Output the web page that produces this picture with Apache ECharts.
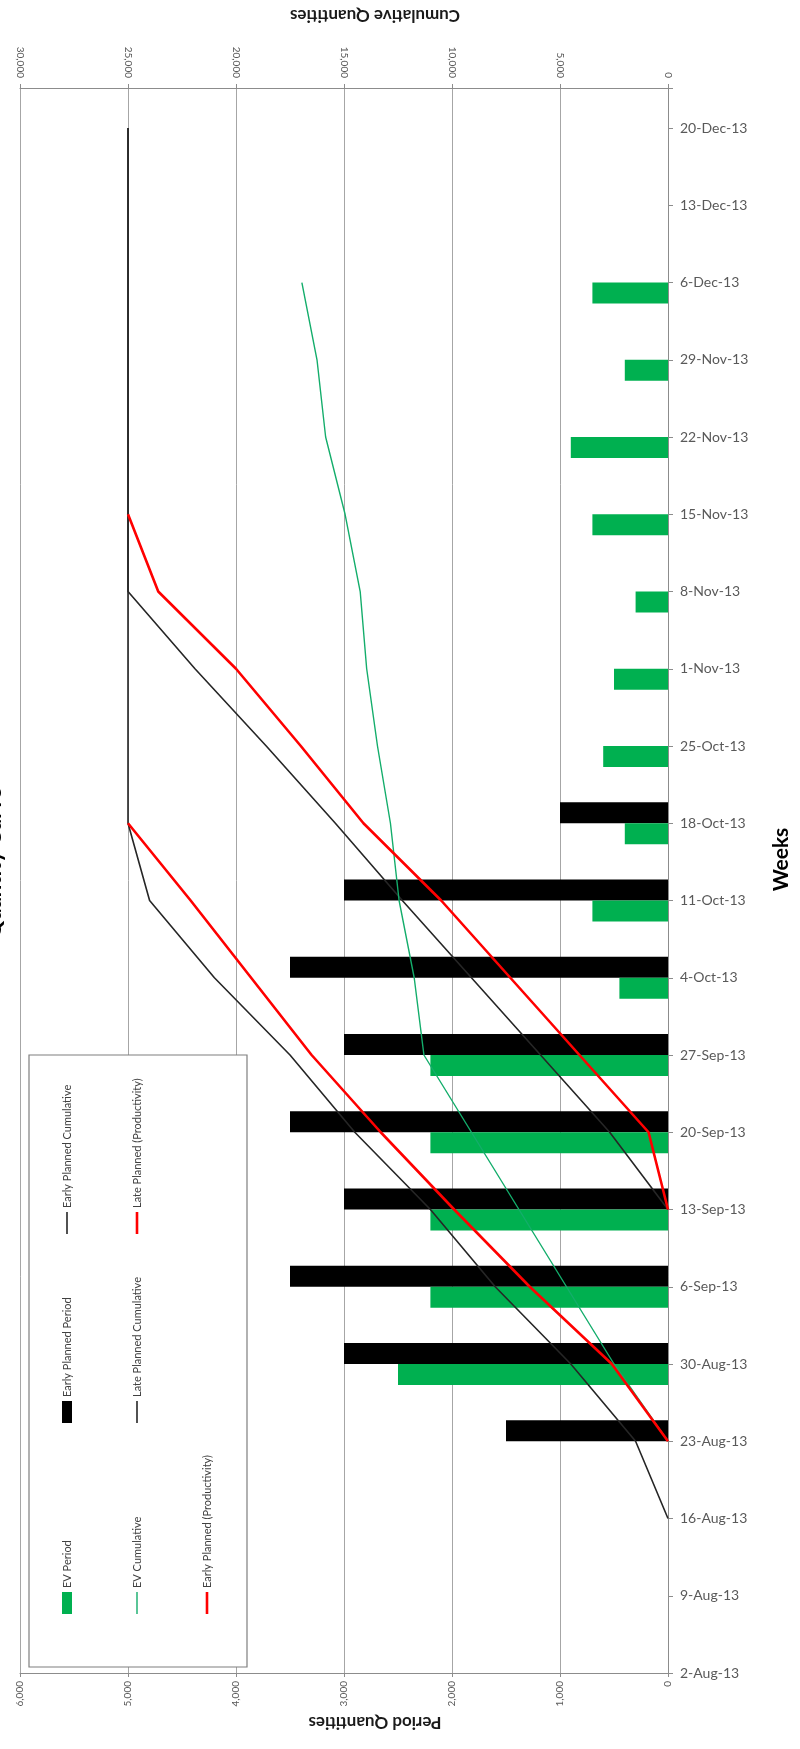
<!DOCTYPE html>
<html>
<head>
<meta charset="utf-8">
<title>Quantity Curve</title>
<script src="https://cdn.jsdelivr.net/npm/echarts@6/dist/echarts.min.js"></script>
<style>
  html, body { margin: 0; padding: 0; background: #ffffff; }
  #chart { width: 800px; height: 1749px; }
</style>
</head>
<body>
<div id="chart"></div>
<script>
// Weekly reporting dates (category labels)
const weeks = ['2-Aug-13','9-Aug-13','16-Aug-13','23-Aug-13','30-Aug-13','6-Sep-13','13-Sep-13',
  '20-Sep-13','27-Sep-13','4-Oct-13','11-Oct-13','18-Oct-13','25-Oct-13','1-Nov-13','8-Nov-13',
  '15-Nov-13','22-Nov-13','29-Nov-13','6-Dec-13','13-Dec-13','20-Dec-13'];

// Period quantities (bars)
const evPeriod =           [null, null, null, null, 2500, 2200, 2200, 2200, 2200, 450, 700, 400, 600, 500, 300, 700, 900, 400, 700, null, null];
const earlyPlannedPeriod = [null, null, null, 1500, 3000, 3500, 3000, 3500, 3000, 3500, 3000, 1000, null, null, null, null, null, null, null, null, null];

// Cumulative quantities (lines)
const earlyPlannedCum = [null, null, 0, 1500, 4500, 8000, 11000, 14500, 17500, 21000, 24000, 25000, 25000, 25000, 25000, 25000, 25000, 25000, 25000, 25000, 25000];
const evCum =           [null, null, null, 0, 2500, 4700, 6900, 9100, 11300, 11750, 12450, 12850, 13450, 13950, 14250, 14950, 15850, 16250, 16950, null, null];
const latePlannedCum =  [null, null, null, null, null, null, 0, 2700, 5900, 9100, 12300, 15400, 18600, 21900, 25000, 25000, 25000, 25000, 25000, 25000, 25000];
const latePlannedProd = [null, null, null, null, null, null, 0, 900, 4100, 7300, 10500, 14100, 17000, 20000, 23600, 25000, null, null, null, null, null];
const earlyPlannedProd =[null, null, null, 0, 2600, 6400, 9900, 13300, 16500, 19300, 22100, 25000, null, null, null, null, null, null, null, null, null];

// Axis ranges
const periodMax = 6000, periodStep = 1000;
const cumMax = 30000, cumStep = 5000;
// the week axis runs a little past the last date
const weekAxisMax = weeks.length - 1 + 0.518;

const FONT = 'Lato, "Open Sans", sans-serif';
const BAR_W = 21;

function pairs(values) {
  const out = [];
  values.forEach((v, i) => { if (v !== null) out.push([v, i]); });
  return out;
}
const fmt = v => Number(v).toLocaleString('en-US');

const colors = {
  ev: '#00B050',
  early: '#000000',
  cumLine: '#262626',
  evLine: '#13AD6B',
  prod: '#FF0000'
};

// Horizontal period bar, drawn beside its week tick (offset in bar widths)
function periodBar(color, slot) {
  return function (params, api) {
    const v = api.value(0), w = api.value(1);
    const p0 = api.coord([0, w]);
    const p1 = api.coord([v, w]);
    return {
      type: 'rect',
      shape: { x: Math.min(p0[0], p1[0]), y: p0[1] + slot * BAR_W,
               width: Math.abs(p1[0] - p0[0]), height: BAR_W },
      style: { fill: color }
    };
  };
}

const series = [
  { name: 'Early Planned Period', type: 'custom', xAxisIndex: 0, encode: { x: 0, y: 1 },
    renderItem: periodBar(colors.early, -1), data: pairs(earlyPlannedPeriod) },
  { name: 'EV Period', type: 'custom', xAxisIndex: 0, encode: { x: 0, y: 1 },
    renderItem: periodBar(colors.ev, 0), data: pairs(evPeriod) },
  { name: 'Early Planned Cumulative', type: 'line', xAxisIndex: 1, showSymbol: false,
    lineStyle: { color: colors.cumLine, width: 1.6 }, data: pairs(earlyPlannedCum) },
  { name: 'Late Planned Cumulative', type: 'line', xAxisIndex: 1, showSymbol: false,
    lineStyle: { color: colors.cumLine, width: 1.6 }, data: pairs(latePlannedCum) },
  { name: 'EV Cumulative', type: 'line', xAxisIndex: 1, showSymbol: false,
    lineStyle: { color: colors.evLine, width: 1.4 }, data: pairs(evCum) },
  { name: 'Late Planned (Productivity)', type: 'line', xAxisIndex: 1, showSymbol: false,
    lineStyle: { color: colors.prod, width: 2.6 }, data: pairs(latePlannedProd) },
  { name: 'Early Planned (Productivity)', type: 'line', xAxisIndex: 1, showSymbol: false,
    lineStyle: { color: colors.prod, width: 2.6 }, data: pairs(earlyPlannedProd) }
];

// Legend: three columns, entries listed bottom-up in each column
const legendLayout = [
  { name: 'EV Period', col: 0, row: 0, kind: 'rect', color: colors.ev },
  { name: 'Early Planned Period', col: 0, row: 1, kind: 'rect', color: colors.early },
  { name: 'Early Planned Cumulative', col: 0, row: 2, kind: 'line', color: colors.cumLine, w: 1.6 },
  { name: 'EV Cumulative', col: 1, row: 0, kind: 'line', color: colors.evLine, w: 1.4 },
  { name: 'Late Planned Cumulative', col: 1, row: 1, kind: 'line', color: colors.cumLine, w: 1.6 },
  { name: 'Late Planned (Productivity)', col: 1, row: 2, kind: 'line', color: colors.prod, w: 2.6 },
  { name: 'Early Planned (Productivity)', col: 2, row: 0, kind: 'line', color: colors.prod, w: 2.6 }
];
const colX = [67, 137, 207];
const rowY = [1603, 1412, 1223];

const legendGraphics = [{
  type: 'rect', z: 100,
  shape: { x: 29, y: 1055, width: 218, height: 612 },
  style: { fill: '#ffffff', stroke: '#7f7f7f', lineWidth: 1.2 }
}];
legendLayout.forEach(item => {
  const cx = colX[item.col], cy = rowY[item.row];
  if (item.kind === 'rect') {
    legendGraphics.push({ type: 'rect', z: 101, shape: { x: cx - 5, y: cy - 11, width: 10, height: 22 },
      style: { fill: item.color } });
  } else {
    legendGraphics.push({ type: 'line', z: 101, shape: { x1: cx, y1: cy - 11, x2: cx, y2: cy + 11 },
      style: { stroke: item.color, lineWidth: item.w } });
  }
  legendGraphics.push({ type: 'text', z: 101, x: cx, y: cy - 15, rotation: Math.PI / 2,
    style: { text: item.name, align: 'left', verticalAlign: 'middle', fontSize: 11,
      fontFamily: FONT, fill: '#404040' } });
});

const chart = echarts.init(document.getElementById('chart'), null, { renderer: 'canvas' });

chart.setOption({
  animation: false,
  backgroundColor: '#ffffff',
  grid: { left: 20, right: 127, top: 88, bottom: 76 },
  xAxis: [
    {
      type: 'value', position: 'bottom', inverse: true,
      min: 0, max: periodMax, interval: periodStep,
      name: 'Period Quantities', nameLocation: 'middle', nameGap: 36, nameRotate: 180,
      nameTextStyle: { fontFamily: FONT, fontSize: 17, fontWeight: 'bold', color: '#1a1a1a', padding: [0, 62, 0, 0] },
      axisLine: { show: true, lineStyle: { color: '#8c8c8c' } },
      axisTick: { show: true, length: 4, lineStyle: { color: '#8c8c8c' } },
      axisLabel: { rotate: 90, margin: 8, fontSize: 10, fontFamily: FONT, color: '#595959', formatter: fmt },
      splitLine: { show: true, lineStyle: { color: '#a6a6a6', width: 1 } }
    },
    {
      type: 'value', position: 'top', inverse: true,
      min: 0, max: cumMax, interval: cumStep,
      name: 'Cumulative Quantities', nameLocation: 'middle', nameGap: 64, nameRotate: 180,
      nameTextStyle: { fontFamily: FONT, fontSize: 17, fontWeight: 'bold', color: '#1a1a1a', padding: [0, 62, 0, 0] },
      axisLine: { show: true, lineStyle: { color: '#8c8c8c' } },
      axisTick: { show: true, length: 4, lineStyle: { color: '#8c8c8c' } },
      axisLabel: { rotate: 90, margin: 10, fontSize: 10, fontFamily: FONT, color: '#595959', formatter: fmt },
      splitLine: { show: false }
    }
  ],
  yAxis: {
    type: 'value', position: 'right',
    min: 0, max: weekAxisMax, interval: 1,
    name: 'Weeks', nameLocation: 'middle', nameGap: 103, nameRotate: 90,
    nameTextStyle: { fontFamily: FONT, fontSize: 21, fontWeight: 'bold', color: '#000000', padding: [0, 0, 0, 42] },
    axisLine: { show: true, lineStyle: { color: '#8c8c8c' } },
    axisTick: { show: true, length: 5, lineStyle: { color: '#8c8c8c' } },
    axisLabel: {
      margin: 12, fontSize: 14, fontFamily: FONT, color: '#595959',
      formatter: v => (Number.isInteger(v) && weeks[v]) ? weeks[v] : ''
    },
    splitLine: { show: false }
  },
  graphic: [
    { type: 'text', z: 100, x: -6, y: 863, rotation: Math.PI / 2,
      style: { text: 'Quantity Curve', align: 'center', verticalAlign: 'middle', fontSize: 22,
        fontWeight: 'bold', fontFamily: FONT, fill: '#000000' } }
  ].concat(legendGraphics),
  series: series
});
</script>
</body>
</html>
